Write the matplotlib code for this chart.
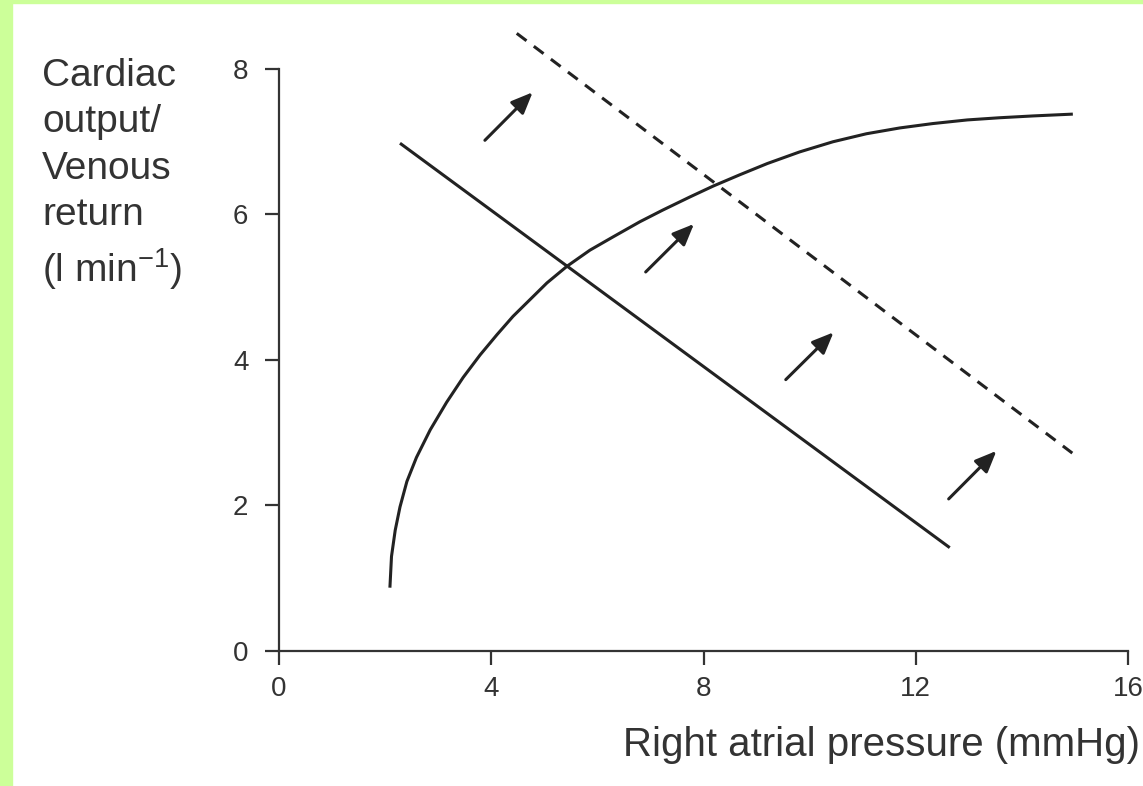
import matplotlib.pyplot as plt
import numpy as np

plt.rcParams["font.family"] = ["Liberation Sans", "DejaVu Sans"]
plt.rcParams["mathtext.fontset"] = "custom"
plt.rcParams["mathtext.rm"] = "Liberation Sans"
plt.rcParams["mathtext.default"] = "regular"

INK = "#222222"
AXIS_INK = "#333333"
BORDER = "#ccff99"

# cardiac output curve (right atrial pressure, l/min)
co_pressure = [2.09, 2.12, 2.19, 2.28, 2.41, 2.59, 2.85, 3.16, 3.47, 3.79,
               4.11, 4.41, 4.73, 5.05, 5.43, 5.86, 6.29, 6.80, 7.23, 7.74,
               8.18, 8.68, 9.20, 9.81, 10.44, 11.07, 11.70, 12.32, 12.97,
               13.58, 14.21, 14.96]
co_output = [0.87, 1.30, 1.66, 1.98, 2.33, 2.66, 3.04, 3.42, 3.76, 4.07,
             4.35, 4.60, 4.83, 5.06, 5.29, 5.51, 5.69, 5.90, 6.06, 6.24,
             6.39, 6.545, 6.70, 6.86, 7.00, 7.11, 7.19, 7.25, 7.30,
             7.33, 7.355, 7.38]

# venous return lines, before and after the shift
vr_pressure = [2.28, 12.64]
vr_return = [6.98, 1.42]
vr_shift_pressure = [4.48, 14.95]
vr_shift_return = [8.49, 2.72]

# shift arrows: (tail x, tail y, head x, head y)
arrow_tails_x = [3.88, 6.91, 9.55, 12.62]
arrow_tails_y = [7.02, 5.21, 3.73, 2.09]
arrow_heads_x = [4.78, 7.82, 10.45, 13.52]
arrow_heads_y = [7.68, 5.87, 4.38, 2.75]

x_ticks = [0, 4, 8, 12, 16]
y_ticks = [0, 2, 4, 6, 8]

fig = plt.figure(figsize=(11.43, 7.86), dpi=100)

# light green frame on the left and top edges
fig.patches.append(plt.Rectangle((0, 0), 12 / 1143, 1, transform=fig.transFigure,
                                 color=BORDER, zorder=0))
fig.patches.append(plt.Rectangle((0, 1 - 3 / 786), 1, 3 / 786, transform=fig.transFigure,
                                 color=BORDER, zorder=0))

ax = fig.add_axes([0.2441, 0.1718, 0.7428, 0.7404])
ax.set_xlim(0, 16)
ax.set_ylim(0, 8)

ax.plot(co_pressure, co_output, color=INK, lw=2.2, solid_capstyle="butt",
        solid_joinstyle="round")
ax.plot(vr_pressure, vr_return, color=INK, lw=2.2, solid_capstyle="butt")
ax.plot(vr_shift_pressure, vr_shift_return, color=INK, lw=2.2,
        dashes=(4.0, 3.0), clip_on=False)

for tx, ty, hx, hy in zip(arrow_tails_x, arrow_tails_y, arrow_heads_x, arrow_heads_y):
    ax.annotate("", xy=(hx, hy), xytext=(tx, ty),
                arrowprops=dict(arrowstyle="-|>,head_length=1.3,head_width=0.55",
                                color=INK, lw=2.2, shrinkA=0, shrinkB=0))

for side in ("top", "right"):
    ax.spines[side].set_visible(False)
for side in ("left", "bottom"):
    ax.spines[side].set_color(AXIS_INK)
    ax.spines[side].set_linewidth(1.6)

ax.set_xticks(x_ticks)
ax.set_yticks(y_ticks)
ax.tick_params(direction="out", length=10, width=1.6, color=AXIS_INK,
               labelsize=20, labelcolor=AXIS_INK)
ax.tick_params(axis="x", pad=8)
ax.tick_params(axis="y", pad=12)

fig.text(42 / 1143, 1 - 58 / 786,
         "Cardiac\noutput/\nVenous\nreturn\n(l min$^{-1}$)",
         ha="left", va="top", fontsize=28, color=AXIS_INK, linespacing=1.37)
fig.text(1140 / 1143, 1 - 745 / 786, "Right atrial pressure (mmHg)",
         ha="right", va="center", fontsize=29, color=AXIS_INK)

fig.savefig("out.png", dpi=100, facecolor="white")
